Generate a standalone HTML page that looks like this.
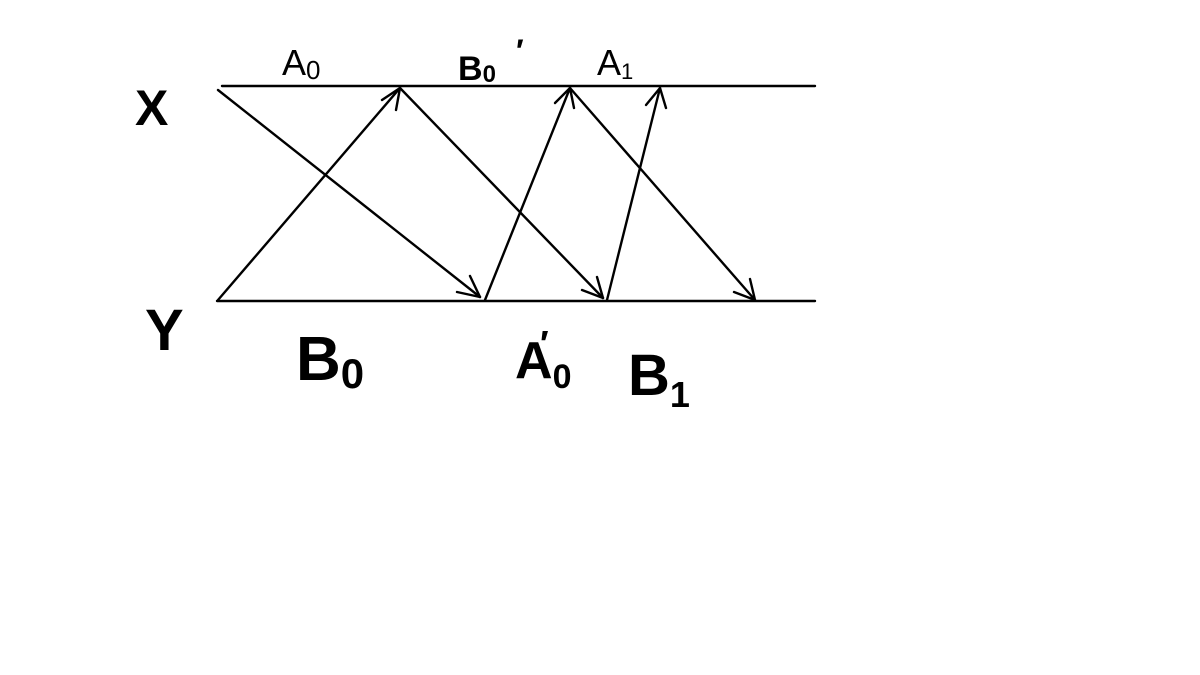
<!DOCTYPE html>
<html>
<head>
<meta charset="utf-8">
<style>
html,body{margin:0;padding:0;background:#fff;}
svg{display:block;}
text{font-family:"Liberation Sans",sans-serif;fill:#000;}
</style>
</head>
<body>
<svg width="1200" height="675" viewBox="0 0 1200 675" xmlns="http://www.w3.org/2000/svg">
<g stroke="#000" stroke-width="2.4" fill="none" stroke-linecap="round" stroke-linejoin="round">
  <line x1="222" y1="86" x2="815" y2="86"/>
  <line x1="217" y1="301" x2="815" y2="301"/>
  <line x1="218" y1="90" x2="480" y2="297"/>
  <polyline points="457,292 480,297 470,276"/>
  <line x1="218" y1="300" x2="400" y2="88"/>
  <polyline points="382,100 400,88 396,110"/>
  <line x1="400" y1="88" x2="603" y2="298"/>
  <polyline points="582,290 603,298 597,277"/>
  <line x1="485" y1="300" x2="570" y2="88"/>
  <polyline points="555,103 570,88 574,108"/>
  <line x1="570" y1="88" x2="755" y2="300"/>
  <polyline points="734,292 755,300 750,279"/>
  <line x1="607" y1="300" x2="660" y2="88"/>
  <polyline points="646,105 660,88 666,108"/>
</g>
<g font-weight="bold">
  <text x="135" y="125" font-size="50">X</text>
  <text x="145" y="350" font-size="58">Y</text>
  <text x="282" y="75" font-size="36" font-weight="normal">A<tspan font-size="26" dy="4">0</tspan></text>
  <text x="458" y="80" font-size="34">B<tspan font-size="24" dy="2">0</tspan></text>
  <text x="516" y="62" font-size="32">′</text>
  <text x="597" y="75" font-size="36" font-weight="normal">A<tspan font-size="22" dy="4">1</tspan></text>
  <text x="296" y="380" font-size="62">B<tspan font-size="42" dy="8">0</tspan></text>
  <text x="515" y="378" font-size="52">A<tspan font-size="34" dy="10">0</tspan></text>
  <text x="540" y="356" font-size="36">′</text>
  <text x="628" y="395" font-size="58">B<tspan font-size="36" dy="12">1</tspan></text>
</g>
</svg>
</body>
</html>
